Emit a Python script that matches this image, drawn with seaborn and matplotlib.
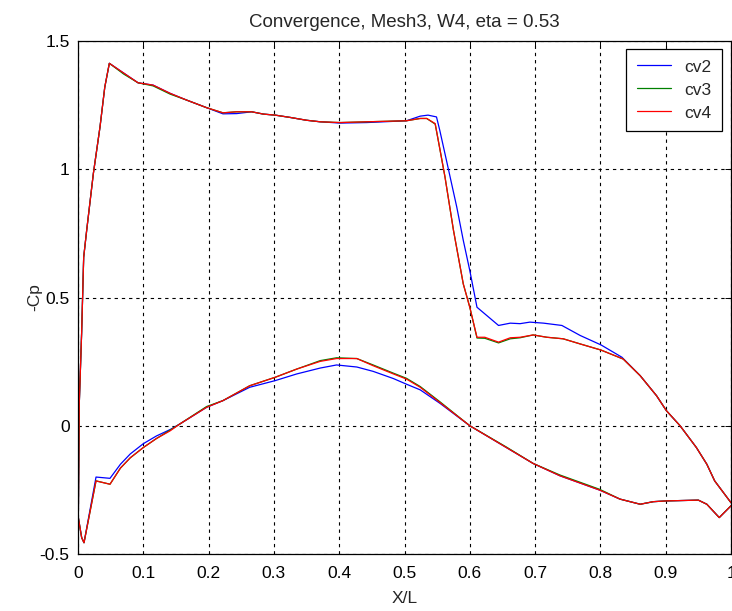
import numpy as np
import pandas as pd
import matplotlib
matplotlib.use("Agg")
import matplotlib.pyplot as plt
import seaborn as sns

# ---- pressure distributions (-Cp) at eta = 0.53, three convergence levels ----
cases = ["cv2", "cv3", "cv4"]
colors = ["#0000ff", "#008000", "#ff0000"]

# upper surface, leading edge -> trailing edge
x_up_fine = [0.002, 0.0056, 0.0087, 0.0133, 0.0235, 0.0337, 0.041, 0.048, 0.07, 0.092,
             0.115, 0.141, 0.166, 0.197, 0.222, 0.243, 0.266, 0.284, 0.302, 0.325,
             0.35, 0.371, 0.401, 0.442, 0.503, 0.524, 0.534, 0.547, 0.554, 0.562,
             0.575, 0.59, 0.6, 0.611, 0.623, 0.644, 0.662, 0.677, 0.697, 0.718,
             0.743, 0.769, 0.801, 0.835, 0.861, 0.886, 0.901, 0.922, 0.947, 0.963,
             0.975, 1.0]
mcp_up_cv4 = [0.09, 0.365, 0.657, 0.762, 0.983, 1.165, 1.32, 1.413, 1.375, 1.337,
              1.328, 1.296, 1.27, 1.24, 1.22, 1.224, 1.224, 1.215, 1.211, 1.202,
              1.191, 1.185, 1.182, 1.185, 1.189, 1.198, 1.198, 1.178, 1.081, 0.97,
              0.762, 0.553, 0.462, 0.345, 0.345, 0.326, 0.343, 0.345, 0.354, 0.345,
              0.339, 0.319, 0.295, 0.26, 0.195, 0.117, 0.059, 0.0, -0.085, -0.15,
              -0.215, -0.30]
mcp_up_cv3 = [0.09, 0.365, 0.657, 0.762, 0.983, 1.165, 1.32, 1.413, 1.371, 1.337,
              1.325, 1.293, 1.27, 1.24, 1.22, 1.224, 1.224, 1.215, 1.211, 1.202,
              1.191, 1.185, 1.182, 1.185, 1.189, 1.198, 1.198, 1.176, 1.081, 0.97,
              0.762, 0.553, 0.462, 0.342, 0.341, 0.323, 0.339, 0.343, 0.354, 0.345,
              0.339, 0.319, 0.295, 0.26, 0.195, 0.117, 0.059, 0.0, -0.085, -0.15,
              -0.215, -0.30]

x_up_coarse = [0.002, 0.0056, 0.0087, 0.0133, 0.0235, 0.0337, 0.041, 0.048, 0.07, 0.092,
               0.115, 0.141, 0.166, 0.197, 0.222, 0.243, 0.266, 0.284, 0.302, 0.325,
               0.35, 0.371, 0.401, 0.442, 0.503, 0.524, 0.536, 0.549, 0.554, 0.567,
               0.58, 0.59, 0.6, 0.611, 0.644, 0.662, 0.677, 0.692, 0.713, 0.741,
               0.769, 0.801, 0.833, 0.861, 0.886, 0.901, 0.922, 0.947, 0.963, 0.975,
               1.0]
mcp_up_cv2 = [0.09, 0.365, 0.657, 0.762, 0.983, 1.165, 1.32, 1.413, 1.375, 1.337,
              1.328, 1.296, 1.27, 1.24, 1.216, 1.217, 1.224, 1.215, 1.211, 1.202,
              1.191, 1.185, 1.18, 1.182, 1.189, 1.207, 1.211, 1.204, 1.152, 1.003,
              0.853, 0.723, 0.605, 0.462, 0.391, 0.40, 0.398, 0.404, 0.40, 0.391,
              0.352, 0.315, 0.267, 0.195, 0.117, 0.059, 0.0, -0.085, -0.15, -0.215,
              -0.30]

# lower surface, leading edge -> trailing edge
x_lo = [0.0005, 0.0056, 0.0092, 0.0276, 0.049, 0.065, 0.08, 0.1, 0.12, 0.141,
        0.156, 0.197, 0.222, 0.263, 0.302, 0.335, 0.371, 0.396, 0.427, 0.452,
        0.483, 0.503, 0.524, 0.554, 0.6, 0.656, 0.697, 0.738, 0.799, 0.83,
        0.861, 0.881, 0.901, 0.95, 0.963, 0.982, 1.0]
mcp_lo_cv4 = [-0.358, -0.436, -0.456, -0.215, -0.228, -0.165, -0.125, -0.085, -0.05, -0.02,
              0.007, 0.072, 0.098, 0.156, 0.189, 0.221, 0.251, 0.262, 0.262, 0.234,
              0.202, 0.182, 0.15, 0.091, 0.0, -0.085, -0.147, -0.195, -0.251, -0.286,
              -0.306, -0.296, -0.293, -0.29, -0.306, -0.358, -0.312]
mcp_lo_cv3 = [-0.358, -0.436, -0.456, -0.215, -0.228, -0.165, -0.125, -0.085, -0.05, -0.017,
              0.007, 0.075, 0.098, 0.156, 0.189, 0.221, 0.254, 0.265, 0.262, 0.237,
              0.205, 0.185, 0.153, 0.094, 0.0, -0.083, -0.147, -0.192, -0.248, -0.286,
              -0.306, -0.296, -0.293, -0.29, -0.306, -0.358, -0.312]
mcp_lo_cv2 = [-0.358, -0.436, -0.456, -0.2, -0.205, -0.15, -0.11, -0.07, -0.04, -0.015,
              0.007, 0.072, 0.098, 0.15, 0.176, 0.202, 0.225, 0.237, 0.229, 0.212,
              0.184, 0.162, 0.14, 0.088, 0.0, -0.085, -0.147, -0.195, -0.251, -0.286,
              -0.306, -0.296, -0.293, -0.29, -0.306, -0.358, -0.312]

x_ticks = [0, 0.1, 0.2, 0.3, 0.4, 0.5, 0.6, 0.7, 0.8, 0.9, 1]
x_ticklabels = ["0", "0.1", "0.2", "0.3", "0.4", "0.5", "0.6", "0.7", "0.8", "0.9", "1"]
y_ticks = [-0.5, 0, 0.5, 1, 1.5]
y_ticklabels = ["-0.5", "0", "0.5", "1", "1.5"]

# ---- one path per case around the section (TE lower -> LE -> TE upper) ----
upper = {"cv2": (x_up_coarse, mcp_up_cv2),
         "cv3": (x_up_fine, mcp_up_cv3),
         "cv4": (x_up_fine, mcp_up_cv4)}
lower = {"cv2": mcp_lo_cv2, "cv3": mcp_lo_cv3, "cv4": mcp_lo_cv4}

frames = []
for name in cases:
    xu, yu = upper[name]
    xs = list(x_lo[::-1]) + list(xu)
    ys = list(lower[name][::-1]) + list(yu)
    frames.append(pd.DataFrame({"X/L": xs, "-Cp": ys, "case": name}))
df = pd.concat(frames, ignore_index=True)

sns.set_theme(style="white")
plt.rcParams["font.family"] = ["Liberation Sans", "DejaVu Sans"]

FS = 12.5

fig = plt.figure(figsize=(7.32, 6.11), dpi=100)
fig.patch.set_facecolor("white")
ax = fig.add_axes([78 / 732, 1 - 554 / 611, 653 / 732, 513 / 611])

sns.lineplot(data=df, x="X/L", y="-Cp", hue="case", hue_order=cases,
             palette=colors, sort=False, estimator=None, units="case",
             linewidth=0.9, ax=ax, legend=False)

ax.set_xlim(0, 1)
ax.set_ylim(-0.5, 1.5)
ax.set_xticks(x_ticks)
ax.set_xticklabels(x_ticklabels)
ax.set_yticks(y_ticks)
ax.set_yticklabels(y_ticklabels)
ax.tick_params(axis="both", which="both", direction="in", length=4, width=0.7,
               colors="black", labelsize=FS, top=True, right=True)
ax.tick_params(axis="x", pad=9)
ax.tick_params(axis="y", pad=6)

ax.grid(True, color="black", linestyle=(0, (3, 3.5)), linewidth=0.8)
ax.set_axisbelow(True)
for side in ["left", "right", "top", "bottom"]:
    ax.spines[side].set_visible(True)
    ax.spines[side].set_color("black")
    ax.spines[side].set_linewidth(0.9)

ax.set_xlabel("X/L", fontsize=FS)
ax.set_ylabel("-Cp", fontsize=FS)
ax.xaxis.set_label_coords(0.5, -0.072)
ax.yaxis.set_label_coords(-0.055, 0.5)
ax.set_title("Convergence, Mesh3, W4, eta = 0.53", fontsize=13.5, pad=10)

handles = [plt.Line2D([], [], color=c, linewidth=0.9) for c in colors]
leg = ax.legend(handles, cases, loc="upper right",
                bbox_to_anchor=((722 - 78) / 653, 1 - (49 - 41) / 513),
                borderaxespad=0, fontsize=FS, frameon=True, fancybox=False,
                framealpha=1, edgecolor="black", handlelength=2.0,
                handletextpad=0.75, labelspacing=0.45, borderpad=0.6)
leg.get_frame().set_linewidth(0.9)

fig.savefig("out.png", dpi=100, facecolor="white")
